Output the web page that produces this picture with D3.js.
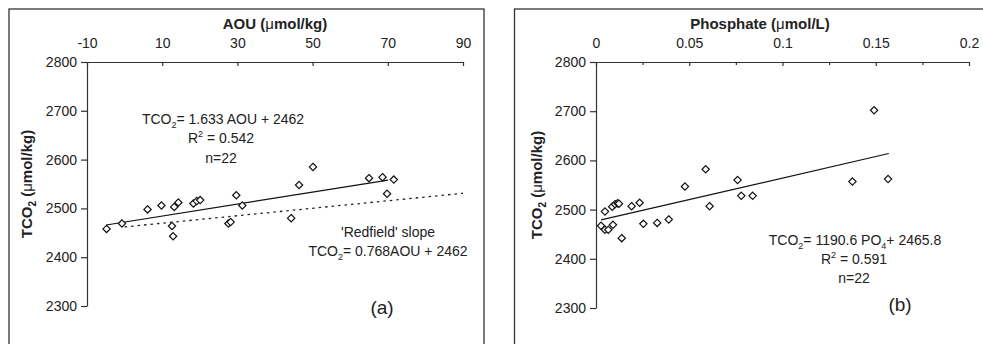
<!DOCTYPE html>
<html><head><meta charset="utf-8">
<script src="https://cdn.jsdelivr.net/npm/d3@7"></script>
<style>
body{margin:0;background:#fff;}
text{font-family:"Liberation Sans",Arial,sans-serif;fill:#222;}
</style></head><body>
<svg id="c" width="983" height="344"></svg>
<script>
// ---- Data ----
const aouX = [-4.8,-0.7,6.1,9.8,13.2,14.3,12.6,12.9,18.3,19.2,20.1,27.6,28.2,29.7,31.3,44.3,46.4,50.1,65.0,68.6,71.6,69.8];
const aouTCO2 = [2458,2469,2498,2506,2503,2512,2464,2443,2510,2515,2517,2469,2472,2527,2506,2480,2548,2585,2562,2564,2559,2530];
const aouFit = [[-4.9,2466],[70.1,2558]];
const redfield = [[0,2462],[90,2531]];

const po4X = [0.0477,0.0048,0.0087,0.0102,0.0116,0.0123,0.0191,0.0234,0.0027,0.0048,0.0066,0.0091,0.0138,0.0254,0.0328,0.0390,0.0588,0.0759,0.0609,0.0779,0.0840,0.1375,0.1491,0.1566];
const po4TCO2 = [2547,2496,2506,2511,2513,2512,2507,2514,2467,2459,2459,2469,2442,2471,2473,2480,2582,2560,2507,2528,2528,2557,2702,2562];
const po4Fit = [[0.0027,2479],[0.157,2614]];

const aouTicks = [-10,10,30,50,70,90];
const po4Ticks = [0,0.05,0.1,0.15,0.2];
const po4Minor = [0.025,0.075,0.125,0.175];
const tcoTicks = [2300,2400,2500,2600,2700,2800];

const svg = d3.select("#c");
const ink = "#333";
const plainFmt = d => String(d);

// frames
svg.append("rect").attr("x",9).attr("y",9).attr("width",475).attr("height",345)
  .attr("fill","none").attr("stroke",ink).attr("stroke-width",1.3);
svg.append("rect").attr("x",514.5).attr("y",9).attr("width",480).attr("height",345)
  .attr("fill","none").attr("stroke",ink).attr("stroke-width",1.3);

function diamond(g, xs, ys, x, y){
  g.selectAll("path.pt").data(xs.map((v,i)=>[v,ys[i]])).join("path").attr("class","pt")
    .attr("d", d3.symbol(d3.symbolDiamond2, 34))
    .attr("transform", d=>`translate(${x(d[0])},${y(d[1])})`)
    .attr("fill","#fff").attr("stroke","#111").attr("stroke-width",1.2);
}
function styleAxis(g){
  g.attr("font-family",null);
  g.selectAll("path,line").attr("stroke",ink).attr("stroke-width",1.2);
  g.selectAll("text").attr("fill","#222").style("font-size","14px");
}
function eqText(g, x, y, parts, size){
  const t = g.append("text").attr("x",x).attr("y",y).attr("text-anchor","middle").style("font-size",(size||14)+"px");
  let shift = 0;
  parts.forEach(p=>{
    if(p.sub){ t.append("tspan").attr("dy",4-shift).style("font-size","9px").text(p.sub); shift = 4; }
    else if(p.sup){ t.append("tspan").attr("dy",-6-shift).style("font-size","9px").text(p.sup); shift = -6; }
    else { t.append("tspan").attr("dy",-shift).text(p.t); shift = 0; }
  });
  return t;
}
function yTitle(g, x, y){
  const t = g.append("text").attr("transform",`translate(${x},${y}) rotate(-90)`).attr("text-anchor","middle")
    .style("font-size","15px").style("font-weight","bold");
  t.append("tspan").text("TCO");
  t.append("tspan").attr("dy",4).style("font-size","10px").text("2");
  t.append("tspan").attr("dy",-4).text(" (");
  t.append("tspan").style("font-weight","normal").text("μ");
  t.append("tspan").text("mol/kg)");
}

// ---- Panel (a) ----
{
  const x = d3.scaleLinear([-10,90],[87,463]);
  const y = d3.scaleLinear([2300,2800],[306,62]);
  const g = svg.append("g");
  const gx = g.append("g").attr("transform",`translate(0,${y(2800)})`)
    .call(d3.axisTop(x).tickValues(aouTicks).tickSizeInner(-4).tickSizeOuter(0).tickPadding(14).tickFormat(plainFmt));
  styleAxis(gx);
  const gy = g.append("g").attr("transform",`translate(${x(-10)},0)`)
    .call(d3.axisLeft(y).tickValues(tcoTicks).tickSizeInner(6).tickSizeOuter(0).tickPadding(4).tickFormat(plainFmt));
  styleAxis(gy);
  const tt = g.append("text").attr("x",275).attr("y",29).attr("text-anchor","middle").style("font-size","15px").style("font-weight","bold");
  tt.append("tspan").text("AOU (");
  tt.append("tspan").style("font-weight","normal").text("μ");
  tt.append("tspan").text("mol/kg)");
  yTitle(g, 32, 184);

  const line = d3.line().x(d=>x(d[0])).y(d=>y(d[1]));
  g.append("path").datum(redfield).attr("d",line).attr("fill","none").attr("stroke","#222")
    .attr("stroke-width",1.3).attr("stroke-dasharray","2.5,4");
  g.append("path").datum(aouFit).attr("d",line).attr("fill","none").attr("stroke","#111").attr("stroke-width",1.2);
  diamond(g, aouX, aouTCO2, x, y);

  eqText(g, 223, 124, [{t:"TCO"},{sub:"2"},{t:"= 1.633 AOU + 2462"}]);
  eqText(g, 221, 143, [{t:"R"},{sup:"2"},{t:" = 0.542"}]);
  eqText(g, 221, 163, [{t:"n=22"}]);
  eqText(g, 388, 237, [{t:"'Redfield' slope"}]);
  eqText(g, 388, 256, [{t:"TCO"},{sub:"2"},{t:"= 0.768AOU + 2462"}]);
  eqText(g, 382, 314, [{t:"(a)"}], 19);
}

// ---- Panel (b) ----
{
  const x = d3.scaleLinear([0,0.2],[596,969]);
  const y = d3.scaleLinear([2300,2800],[308,62]);
  const g = svg.append("g");
  const gx = g.append("g").attr("transform",`translate(0,${y(2800)})`)
    .call(d3.axisTop(x).tickValues(po4Ticks).tickSizeInner(-4).tickSizeOuter(0).tickPadding(14).tickFormat(plainFmt));
  styleAxis(gx);
  const gm = g.append("g").attr("transform",`translate(0,${y(2800)})`)
    .call(d3.axisTop(x).tickValues(po4Minor).tickSizeInner(-3).tickSizeOuter(0).tickFormat(""));
  styleAxis(gm);
  const gy = g.append("g").attr("transform",`translate(${x(0)},0)`)
    .call(d3.axisLeft(y).tickValues(tcoTicks).tickSizeInner(6).tickSizeOuter(0).tickPadding(4).tickFormat(plainFmt));
  styleAxis(gy);
  const tt = g.append("text").attr("x",760).attr("y",29).attr("text-anchor","middle").style("font-size","15px").style("font-weight","bold");
  tt.append("tspan").text("Phosphate (");
  tt.append("tspan").style("font-weight","normal").text("μ");
  tt.append("tspan").text("mol/L)");
  yTitle(g, 542, 185);

  const line = d3.line().x(d=>x(d[0])).y(d=>y(d[1]));
  g.append("path").datum(po4Fit).attr("d",line).attr("fill","none").attr("stroke","#111").attr("stroke-width",1.2);
  diamond(g, po4X, po4TCO2, x, y);

  eqText(g, 855, 245, [{t:"TCO"},{sub:"2"},{t:"= 1190.6 PO"},{sub:"4"},{t:"+ 2465.8"}]);
  eqText(g, 854, 264, [{t:"R"},{sup:"2"},{t:" = 0.591"}]);
  eqText(g, 854, 283, [{t:"n=22"}]);
  eqText(g, 900, 311, [{t:"(b)"}], 19);
}
</script>
</body></html>
